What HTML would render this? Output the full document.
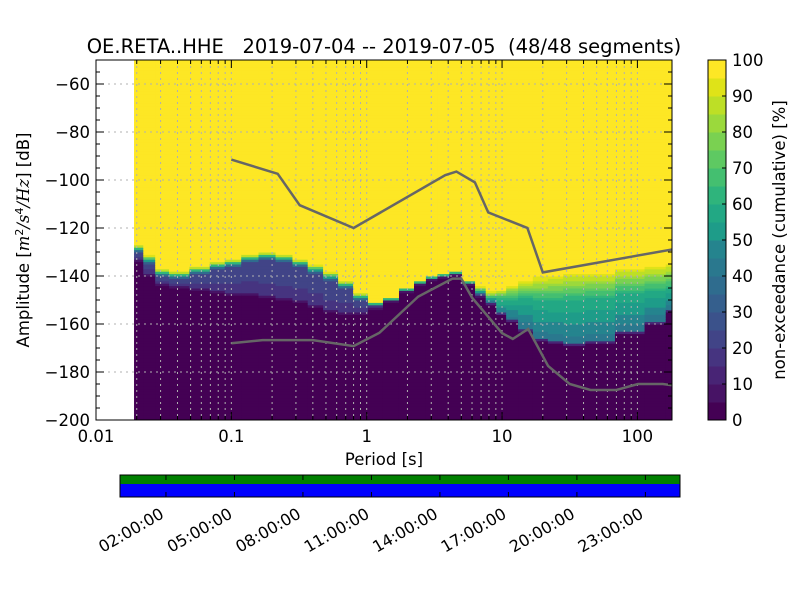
<!DOCTYPE html>
<html><head><meta charset="utf-8">
<style>
body{margin:0;background:#fff;}
svg text{font-family:"DejaVu Sans","Liberation Sans",sans-serif;fill:#000;}
</style></head>
<body>
<svg id="c" width="800" height="600" viewBox="0 0 800 600">
<defs><clipPath id="pc"><rect x="96" y="60" width="576" height="360"/></clipPath></defs>
<text x="384" y="53" font-size="19.5" text-anchor="middle" style="white-space:pre">OE.RETA..HHE   2019-07-04 -- 2019-07-05  (48/48 segments)</text>
<g id="heat" clip-path="url(#pc)"></g>
<g id="grid"></g>
<g id="models" clip-path="url(#pc)"></g>
<rect x="96" y="60" width="576" height="360" fill="none" stroke="#000" stroke-width="1"/>
<g id="axes"></g>
<text x="384" y="465" font-size="16.5" text-anchor="middle">Period [s]</text>
<text transform="translate(29,240) rotate(-90)" font-size="16.5" text-anchor="middle">Amplitude [<tspan font-style="italic" font-family="DejaVu Serif">m</tspan><tspan font-size="11" dy="-6">2</tspan><tspan dy="6" font-style="italic" font-family="DejaVu Serif">/s</tspan><tspan font-size="11" dy="-6">4</tspan><tspan dy="6" font-style="italic" font-family="DejaVu Serif">/Hz</tspan>] [dB]</text>
<g id="cbar"></g>
<text transform="translate(785,240) rotate(-90)" font-size="16.5" text-anchor="middle">non-exceedance (cumulative) [%]</text>
<g id="timeline"></g>
</svg>
<script>
const periods=[0.02,0.025,0.03,0.04,0.06,0.08,0.1,0.14,0.18,0.25,0.32,0.42,0.54,0.7,0.9,1.16,1.5,2,2.5,3,3.7,4.5,5.7,7,8.2,10,11.5,15,19,25,32,53,88,145,181];
const lowDb=[-134,-140,-144,-145,-146,-147,-148,-148,-149,-150,-151,-153,-155,-156,-156,-154,-151,-147,-144,-142,-141,-140,-144,-149,-152,-156,-159,-163,-167,-168,-169,-168,-164,-160,-155];
const midDb=[-130,-135,-140,-141,-139,-137,-136,-134,-133,-134,-136,-139,-142,-145,-150,-152,-150,-146,-143,-141,-140,-139,-143,-147,-149,-149,-149,-149,-150,-150,-150,-149,-147,-146,-145];
const midPct=[25,25,25,25,25,25,25,25,25,25,25,25,25,25,25,25,25,25,25,25,25,25,25,40,60,65,62,60,60,60,60,60,60,60,60];
const highDb=[-127,-131,-137,-138,-136,-134,-133,-131,-130,-131,-133,-135,-138,-142,-147,-151,-149,-145,-142,-140,-139,-138,-142,-144,-146,-145,-143,-141,-139,-138,-137,-137,-135,-134,-133];
const nhnmP=[0.1,0.22,0.32,0.8,3.8,4.6,6.3,7.9,15.4,20,354.8];
const nhnmV=[-91.5,-97.4,-110.5,-120,-98,-96.5,-101,-113.5,-120,-138.5,-126];
const nlnmP=[0.1,0.17,0.4,0.8,1.24,2.4,4.3,5,6,10,12,15.6,21.9,31.6,45,70,101,154,328];
const nlnmV=[-168,-166.7,-166.7,-169.2,-163.7,-148.6,-141.1,-141.1,-149,-163.8,-166.2,-162.1,-177.5,-185,-187.5,-187.5,-185,-185,-187.5];
const yTicks=[-60,-80,-100,-120,-140,-160,-180,-200];
const xTicks=[0.01,0.1,1,10,100];
const xTickLabels=["0.01","0.1","1","10","100"];
const cbTicks=[0,10,20,30,40,50,60,70,80,90,100];
const timeTicks=["02:00:00","05:00:00","08:00:00","11:00:00","14:00:00","17:00:00","20:00:00","23:00:00"];
const timeHours=[2,5,8,11,14,17,20,23];

const NS="http://www.w3.org/2000/svg";
function mk(t,a,p){const e=document.createElementNS(NS,t);for(const k in a)e.setAttribute(k,a[k]);p.appendChild(e);return e;}
const X=p=>96+(Math.log10(p)+2)*135.35;
const Y=d=>60+(-50-d)*2.4;
const vir=["#440154","#471365","#482475","#463480","#414487","#3b528b","#355f8d","#2f6c8e","#2a788e","#25848e","#21918c","#1e9c89","#22a884","#2fb47c","#44bf70","#5ec962","#7ad151","#9bd93c","#bddf26","#dfe318","#fde725"];
const binColor=i=>vir[Math.round(i*20/19)];
function cum(i,d){
  const lo=lowDb[i],mi=midDb[i],hi=highDb[i],mp=midPct[i];
  if(d<=lo)return 0; if(d>=hi)return 100;
  const lo2=Math.min(lo+1.5,mi);
  if(d<=lo2)return 0.7*mp*(d-lo)/Math.max(0.01,lo2-lo);
  if(d<=mi)return 0.7*mp+0.3*mp*(d-lo2)/Math.max(0.01,mi-lo2);
  return mp+(100-mp)*(d-mi)/Math.max(0.01,hi-mi);
}
const heat=document.getElementById('heat');
for(let i=0;i<periods.length;i++){
  const lp=Math.log10(periods[i]);
  const l0=i==0?lp-0.02:(lp+Math.log10(periods[i-1]))/2;
  const l1=i==periods.length-1?lp+0.05:(lp+Math.log10(periods[i+1]))/2;
  const x0=X(Math.pow(10,l0)),x1=X(Math.pow(10,l1));
  for(let d=-200;d<-50;d++){
    const c=cum(i,d+0.5);
    const b=Math.min(19,Math.floor(c/5));
    const r=mk('rect',{x:x0,y:Y(d+1),width:x1-x0+0.6,height:2.9,fill:binColor(b)},heat);
    
    
  }
}
const grid=document.getElementById('grid');
for(let dec=-2;dec<=2;dec++)for(let m=1;m<=9;m++){
  const x=X(m*Math.pow(10,dec)); if(x<=96||x>=672)continue;
  const g=mk('line',{x1:x,x2:x,y1:60,y2:420,stroke:'#b0b0b0','stroke-width':1,'stroke-dasharray':'2,4'},grid);
  
  
}
yTicks.forEach(v=>{const y=Y(v);if(y<=60||y>=420)return;
  const g=mk('line',{x1:96,x2:672,y1:y,y2:y,stroke:'#b0b0b0','stroke-width':1,'stroke-dasharray':'2,4'},grid);
  
  });
const models=document.getElementById('models');
function line(P,V,name){
  const pts=P.map((p,i)=>X(p).toFixed(1)+','+Y(V[i]).toFixed(1)).join(' ');
  const e=mk('polyline',{points:pts,fill:'none',stroke:'#666','stroke-width':2.5},models);
  
  
}
line(nhnmP,nhnmV,'nhnm-line');line(nlnmP,nlnmV,'nlnm-line');
const axes=document.getElementById('axes');
yTicks.forEach(v=>{const y=Y(v);
  mk('line',{x1:96,x2:104,y1:y,y2:y,stroke:'#000'},axes);mk('line',{x1:664,x2:672,y1:y,y2:y,stroke:'#000'},axes);
  const t=mk('text',{x:90,y:y+6,'font-size':16.5,'text-anchor':'end'},axes);t.textContent=String(v).replace('-','\u2212');
  
  });
for(let v=-200;v<=-50;v+=5){const y=Y(v);mk('line',{x1:96,x2:100,y1:y,y2:y,stroke:'#000'},axes);mk('line',{x1:668,x2:672,y1:y,y2:y,stroke:'#000'},axes);}
xTicks.forEach((v,i)=>{const x=X(v);
  mk('line',{x1:x,x2:x,y1:412,y2:420,stroke:'#000'},axes);mk('line',{x1:x,x2:x,y1:60,y2:68,stroke:'#000'},axes);
  const t=mk('text',{x:x,y:442,'font-size':16.5,'text-anchor':'middle'},axes);t.textContent=xTickLabels[i];
  
  });
for(let dec=-2;dec<=2;dec++)for(let m=2;m<=9;m++){const x=X(m*Math.pow(10,dec));if(x>=672)continue;
  mk('line',{x1:x,x2:x,y1:416,y2:420,stroke:'#000'},axes);mk('line',{x1:x,x2:x,y1:60,y2:64,stroke:'#000'},axes);}
const cb=document.getElementById('cbar');
for(let i=0;i<20;i++){const r=mk('rect',{x:708,y:420-(i+1)*18,width:18,height:18.5,fill:binColor(i)},cb);
  
  }
mk('rect',{x:708,y:60,width:18,height:360,fill:'none',stroke:'#000'},cb);
cbTicks.forEach(v=>{const y=420-v*3.6;mk('line',{x1:722,x2:726,y1:y,y2:y,stroke:'#000'},cb);
  const t=mk('text',{x:732,y:y+6,'font-size':16.5},cb);t.textContent=v;
  
  });
const tl=document.getElementById('timeline');
const TX=h=>120.3+h*22.83;
mk('rect',{x:120,y:475,width:560,height:9,fill:'#008000'},tl);
mk('rect',{x:120,y:484,width:560,height:13,fill:'#0000ff'},tl);
mk('rect',{x:120,y:475,width:560,height:22,fill:'none',stroke:'#000'},tl);
timeHours.forEach((h,i)=>{const x=TX(h);
  mk('line',{x1:x,x2:x,y1:475,y2:480,stroke:'#000'},tl);mk('line',{x1:x,x2:x,y1:492,y2:497,stroke:'#000'},tl);
  const t=mk('text',{transform:`translate(${x-1},${517}) rotate(-30)`,'font-size':16,'text-anchor':'end'},tl);
  t.textContent=timeTicks[i];
  
  });
</script>
</body></html>
